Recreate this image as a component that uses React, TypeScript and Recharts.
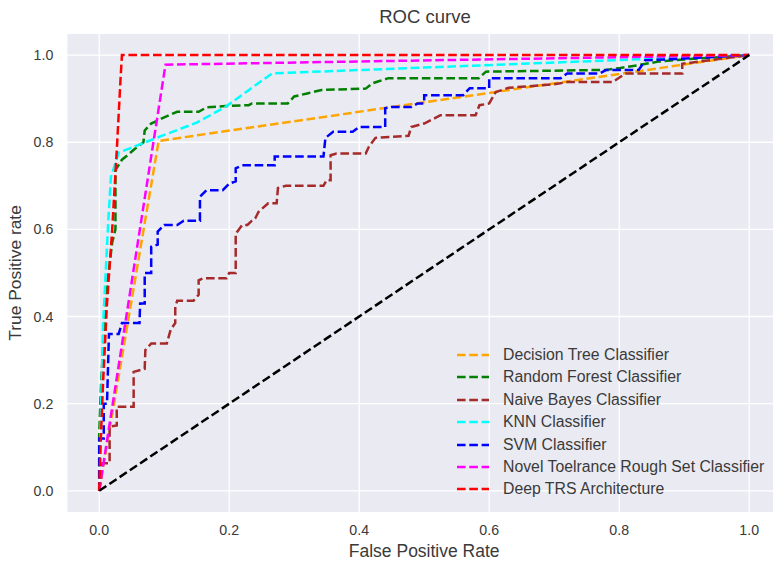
import React from 'react';
import { LineChart, Line, XAxis, YAxis, CartesianGrid, Legend } from 'recharts';

// ROC points, one fpr/tpr pair per classifier
const dtFpr = [0, 0.0915, 1];
const dtTpr = [0, 0.803, 1];

const rfFpr = [0, 0, 0.003, 0.008, 0.012, 0.02, 0.025, 0.025, 0.035, 0.045, 0.055, 0.068, 0.07, 0.08, 0.09, 0.1, 0.12, 0.153, 0.165, 0.195, 0.23, 0.235, 0.29, 0.3, 0.32, 0.342, 0.41, 0.42, 0.43, 0.445, 0.584, 0.595, 0.78, 0.8, 0.83, 0.86, 0.9, 1];
const rfTpr = [0, 0.13, 0.25, 0.38, 0.47, 0.57, 0.6, 0.736, 0.76, 0.772, 0.785, 0.8, 0.827, 0.843, 0.85, 0.857, 0.87, 0.87, 0.88, 0.883, 0.885, 0.889, 0.889, 0.905, 0.912, 0.92, 0.923, 0.935, 0.94, 0.947, 0.947, 0.962, 0.966, 0.97, 0.977, 0.985, 0.99, 1];

const nbFpr = [0, 0.003, 0.005, 0.016, 0.016, 0.027, 0.027, 0.053, 0.053, 0.07, 0.071, 0.08, 0.104, 0.11, 0.117, 0.117, 0.12, 0.145, 0.153, 0.153, 0.16, 0.196, 0.2, 0.21, 0.21, 0.22, 0.228, 0.235, 0.24, 0.245, 0.26, 0.273, 0.275, 0.287, 0.345, 0.35, 0.356, 0.356, 0.365, 0.41, 0.415, 0.425, 0.476, 0.48, 0.5, 0.52, 0.525, 0.579, 0.585, 0.6, 0.61, 0.63, 0.7, 0.72, 0.79, 0.81, 0.897, 0.897, 1];
const nbTpr = [0, 0.03, 0.063, 0.063, 0.147, 0.15, 0.193, 0.193, 0.273, 0.28, 0.323, 0.338, 0.338, 0.37, 0.385, 0.422, 0.436, 0.436, 0.45, 0.483, 0.488, 0.488, 0.5, 0.5, 0.59, 0.61, 0.61, 0.62, 0.625, 0.64, 0.66, 0.66, 0.695, 0.7, 0.7, 0.713, 0.713, 0.77, 0.774, 0.774, 0.79, 0.81, 0.815, 0.835, 0.843, 0.858, 0.862, 0.862, 0.885, 0.889, 0.915, 0.925, 0.933, 0.938, 0.938, 0.958, 0.958, 0.98, 1];

const knnFpr = [0, 0.003, 0.006, 0.01, 0.014, 0.018, 0.03, 0.0865, 0.15, 0.194, 0.266, 1];
const knnTpr = [0, 0.2, 0.38, 0.5, 0.62, 0.72, 0.776, 0.809, 0.845, 0.881, 0.958, 1];

const svmFpr = [0, 0, 0.007, 0.007, 0.012, 0.015, 0.03, 0.035, 0.062, 0.063, 0.07, 0.07, 0.08, 0.08, 0.09, 0.09, 0.1, 0.12, 0.13, 0.155, 0.155, 0.165, 0.19, 0.2, 0.21, 0.21, 0.22, 0.27, 0.27, 0.345, 0.348, 0.36, 0.39, 0.4, 0.44, 0.44, 0.45, 0.48, 0.49, 0.5, 0.5, 0.56, 0.57, 0.6, 0.6, 0.71, 0.72, 0.77, 0.78, 0.83, 0.84, 0.9, 1];
const svmTpr = [0, 0.12, 0.12, 0.2, 0.2, 0.36, 0.36, 0.385, 0.385, 0.43, 0.43, 0.5, 0.5, 0.56, 0.565, 0.595, 0.61, 0.61, 0.62, 0.62, 0.675, 0.69, 0.69, 0.705, 0.71, 0.74, 0.747, 0.747, 0.767, 0.767, 0.81, 0.824, 0.824, 0.835, 0.835, 0.878, 0.881, 0.881, 0.889, 0.889, 0.908, 0.908, 0.924, 0.924, 0.947, 0.947, 0.958, 0.958, 0.966, 0.966, 0.988, 0.992, 1];

const ntrsFpr = [0, 0.102, 1];
const ntrsTpr = [0, 0.978, 1];

const deepFpr = [0, 0.002, 0.006, 0.012, 0.02, 0.027, 0.033, 0.035, 1];
const deepTpr = [0, 0.1, 0.25, 0.43, 0.6, 0.78, 0.95, 1, 1];

const diagFpr = [0, 1];
const diagTpr = [0, 1];

const ticks = [0, 0.2, 0.4, 0.6, 0.8, 1.0];

const toPoints = (fpr: number[], tpr: number[]) => fpr.map((x, i) => ({ x, y: tpr[i] }));

const series = [
  { name: 'Decision Tree Classifier', color: 'orange', data: toPoints(dtFpr, dtTpr) },
  { name: 'Random Forest Classifier', color: 'green', data: toPoints(rfFpr, rfTpr) },
  { name: 'Naive Bayes Classifier', color: 'brown', data: toPoints(nbFpr, nbTpr) },
  { name: 'KNN Classifier', color: 'cyan', data: toPoints(knnFpr, knnTpr) },
  { name: 'SVM Classifier', color: 'blue', data: toPoints(svmFpr, svmTpr) },
  { name: 'Novel Toelrance Rough Set Classifier', color: 'magenta', data: toPoints(ntrsFpr, ntrsTpr) },
  { name: 'Deep TRS Architecture', color: 'red', data: toPoints(deepFpr, deepTpr) },
];

const FONT = '"Liberation Sans", Arial, Helvetica, sans-serif';
const DASH = '8.6 3.7';
const LW = 2.5;

const renderLegend = () => (
  <div style={{ fontFamily: FONT }}>
    {series.map((s) => (
      <div key={s.name} style={{ display: 'flex', alignItems: 'center', height: 22.4 }}>
        <svg width={32} height={10}>
          <line x1={0} y1={5} x2={32} y2={5} stroke={s.color} strokeWidth={LW} strokeDasharray={DASH} />
        </svg>
        <span style={{ marginLeft: 14, fontSize: 15.8, color: '#3a3a3a', whiteSpace: 'nowrap' }}>{s.name}</span>
      </div>
    ))}
  </div>
);

const App = () => {
  return (
    <div style={{ position: 'absolute', left: 0, top: 0, width: 773, height: 561, overflow: 'hidden', background: '#fff', fontFamily: FONT }}>
      <div style={{ position: 'absolute', left: 0, top: 6, width: 850, textAlign: 'center', fontSize: 18.5, lineHeight: '22px', color: '#3a3a3a' }}>
        ROC curve
      </div>
      <LineChart width={790} height={561} margin={{ top: 33.3, right: 8.3, bottom: 0, left: 0 }}>
        <CartesianGrid fill="#EAEAF2" stroke="#fff" strokeWidth={1.3} />
        <XAxis
          type="number"
          dataKey="x"
          domain={[-0.05, 1.05]}
          ticks={ticks}
          allowDataOverflow
          tickFormatter={(v: number) => v.toFixed(1)}
          axisLine={false}
          tickLine={false}
          tickSize={0}
          tickMargin={12}
          height={48.4}
          tick={{ fill: '#3a3a3a', fontSize: 14.2, fontFamily: FONT }}
          label={{ value: 'False Positive Rate', position: 'insideBottom', offset: 4, fill: '#3a3a3a', fontSize: 17.5, fontFamily: FONT }}
        />
        <YAxis
          type="number"
          dataKey="y"
          domain={[-0.05, 1.05]}
          ticks={ticks}
          allowDataOverflow
          tickFormatter={(v: number) => v.toFixed(1)}
          axisLine={false}
          tickLine={false}
          tickSize={0}
          tickMargin={13.4}
          width={66.7}
          tick={{ fill: '#3a3a3a', fontSize: 14.2, fontFamily: FONT }}
          label={{ value: 'True Positive rate', angle: -90, position: 'insideLeft', offset: 15, fill: '#3a3a3a', fontSize: 17.4, fontFamily: FONT, style: { textAnchor: 'middle' } }}
        />
        {series.map((s) => (
          <Line
            key={s.name}
            data={s.data}
            dataKey="y"
            name={s.name}
            type="linear"
            stroke={s.color}
            strokeWidth={LW}
            strokeDasharray={DASH}
            dot={false}
            activeDot={false}
            isAnimationActive={false}
          />
        ))}
        <Line
          data={toPoints(diagFpr, diagTpr)}
          dataKey="y"
          type="linear"
          stroke="#000"
          strokeWidth={LW}
          strokeDasharray={DASH}
          dot={false}
          activeDot={false}
          legendType="none"
          isAnimationActive={false}
        />
        <Legend
          content={renderLegend}
          layout="horizontal"
          verticalAlign="middle"
          align="center"
          wrapperStyle={{ left: 457, top: 343.8, width: 330 }}
        />
      </LineChart>
    </div>
  );
};

export default App;
